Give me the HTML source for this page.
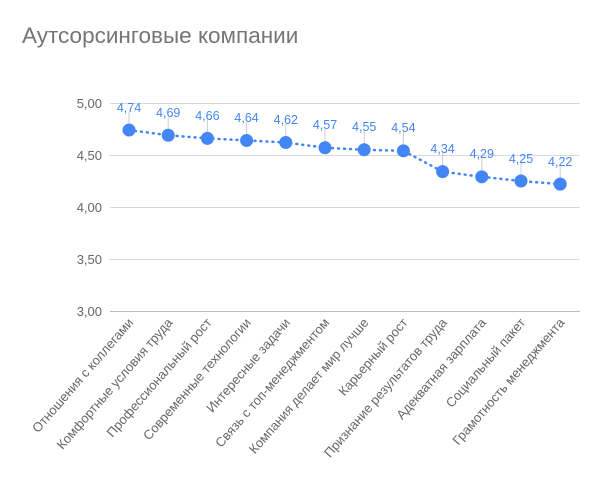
<!DOCTYPE html>
<html><head><meta charset="utf-8"><style>body{margin:0;background:#fff}</style></head><body>
<svg width="600" height="476" xmlns="http://www.w3.org/2000/svg" font-family="Liberation Sans, sans-serif">
<rect width="600" height="476" fill="#fff"/>
<text x="22" y="43" font-size="22.5" fill="#757575">Аутсорсинговые компании</text>
<g stroke="#d9d9d9" stroke-width="1">
<line x1="110" x2="580" y1="103.5" y2="103.5"/>
<line x1="110" x2="580" y1="155.5" y2="155.5"/>
<line x1="110" x2="580" y1="207.5" y2="207.5"/>
<line x1="110" x2="580" y1="259.5" y2="259.5"/>
<line x1="110" x2="580" y1="311.5" y2="311.5" stroke="#bdbdbd"/>
</g>
<g font-size="13" fill="#666" text-anchor="end">
<text x="102" y="108">5,00</text><text x="102" y="160">4,50</text><text x="102" y="212">4,00</text><text x="102" y="264">3,50</text><text x="102" y="316">3,00</text>
</g>
<g stroke="#ccc">
<line x1="129" x2="129" y1="112" y2="130"/>
<line x1="168.2" x2="168.2" y1="117" y2="135"/>
<line x1="207.4" x2="207.4" y1="120" y2="138"/>
<line x1="246.6" x2="246.6" y1="122" y2="140"/>
<line x1="285.8" x2="285.8" y1="124" y2="142"/>
<line x1="325" x2="325" y1="129" y2="147"/>
<line x1="364.2" x2="364.2" y1="131" y2="149"/>
<line x1="403.4" x2="403.4" y1="132" y2="150"/>
<line x1="442.6" x2="442.6" y1="153" y2="171"/>
<line x1="481.8" x2="481.8" y1="158" y2="176"/>
<line x1="521" x2="521" y1="163" y2="181"/>
<line x1="560.2" x2="560.2" y1="166" y2="184"/>
</g>
<g font-size="12.5" fill="#4285f4" text-anchor="middle">
<text x="129" y="112">4,74</text>
<text x="168.2" y="117">4,69</text>
<text x="207.4" y="120">4,66</text>
<text x="246.6" y="122">4,64</text>
<text x="285.8" y="124">4,62</text>
<text x="325" y="129">4,57</text>
<text x="364.2" y="131">4,55</text>
<text x="403.4" y="132">4,54</text>
<text x="442.6" y="153">4,34</text>
<text x="481.8" y="158">4,29</text>
<text x="521" y="163">4,25</text>
<text x="560.2" y="166">4,22</text>
</g>
<g font-size="13" fill="#666" text-anchor="end">
<text transform="translate(134,323) rotate(-49)">Отношения с коллегами</text>
<text transform="translate(173.2,323) rotate(-49)">Комфортные условия труда</text>
<text transform="translate(212.4,323) rotate(-49)">Профессиональный рост</text>
<text transform="translate(251.6,323) rotate(-49)">Современные технологии</text>
<text transform="translate(290.8,323) rotate(-49)">Интересные задачи</text>
<text transform="translate(330,323) rotate(-49)">Связь с топ-менеджментом</text>
<text transform="translate(369.2,323) rotate(-49)">Компания делает мир лучше</text>
<text transform="translate(408.4,323) rotate(-49)">Карьерный рост</text>
<text transform="translate(447.6,323) rotate(-49)">Признание результатов труда</text>
<text transform="translate(486.8,323) rotate(-49)">Адекватная зарплата</text>
<text transform="translate(526,323) rotate(-49)">Социальный пакет</text>
<text transform="translate(565.2,323) rotate(-49)">Грамотность менеджмента</text>
</g>
<path d="M129 130.04L168.2 135.24L207.4 138.36L246.6 140.44L285.8 142.52L325 147.72L364.2 149.8L403.4 150.84L442.6 171.64L481.8 176.84L521 181L560.2 184.12" fill="none" stroke="#4285f4" stroke-width="2.5" stroke-dasharray="1 5" stroke-linecap="round"/>
<g fill="#4285f4">
<circle cx="129" cy="130.04" r="6.5"/><circle cx="168.2" cy="135.24" r="6.5"/><circle cx="207.4" cy="138.36" r="6.5"/><circle cx="246.6" cy="140.44" r="6.5"/><circle cx="285.8" cy="142.52" r="6.5"/><circle cx="325" cy="147.72" r="6.5"/><circle cx="364.2" cy="149.8" r="6.5"/><circle cx="403.4" cy="150.84" r="6.5"/><circle cx="442.6" cy="171.64" r="6.5"/><circle cx="481.8" cy="176.84" r="6.5"/><circle cx="521" cy="181" r="6.5"/><circle cx="560.2" cy="184.12" r="6.5"/>
</g>
</svg>
</body></html>
